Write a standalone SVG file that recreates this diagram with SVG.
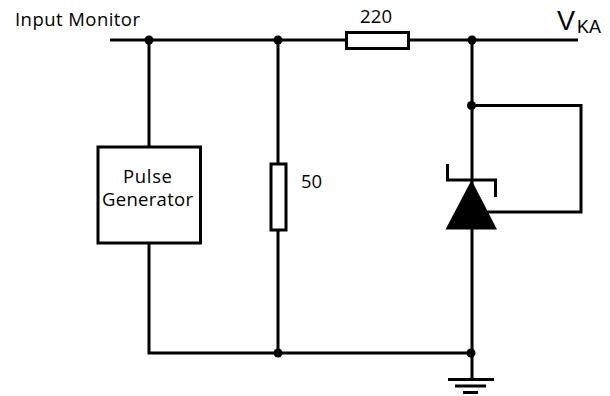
<svg xmlns="http://www.w3.org/2000/svg" width="610" height="396" viewBox="0 0 610 396">
<style>
.w{fill:none;stroke:#000;stroke-width:3}
.b{fill:#fff;stroke:#000;stroke-width:3}
.t{font-family:"Open Sans","Liberation Sans",Arial,sans-serif;fill:#000;font-size:18.500px}
.d{fill:#000}
.v{font-family:"Liberation Sans",Arial,sans-serif;fill:#000}
</style>
<rect width="610" height="396" fill="#fff"/>
<g id="connectors">
<path class="w" d="M110 40H578"/>
<path class="w" d="M149 40V147M149 243V353H472"/>
<path class="w" d="M278 40V164M278 230V353"/>
<path class="w" d="M472 40V353V379"/>
<path class="w" d="M472 105.500H581V212H485"/>
</g>
<g id="n-pulse"><rect class="b" x="98" y="147" width="102.500" height="96"/>
<text class="t" x="123" y="183" textLength="49">Pulse</text>
<text class="t" x="102" y="206" textLength="91">Generator</text></g>
<g id="n-r220"><rect class="b" x="346.500" y="32.500" width="62" height="16"/>
<text class="t" x="360" y="23" textLength="32">220</text></g>
<g id="n-r50"><rect class="b" x="271" y="164" width="15" height="66"/>
<text class="t" x="301" y="188" textLength="21">50</text></g>
<g id="n-zener"><polygon class="d" points="471.500,180 497,229.500 445.500,229.500"/>
<path class="w" d="M447.500 164V180H495.500V197"/></g>
<g id="n-ground"><path class="w" d="M448 379.500H494M455 386H486M463 392.500H478"/></g>
<g id="junctions"><circle class="d" cx="149" cy="40" r="4.500"/><circle class="d" cx="278" cy="40" r="4.500"/><circle class="d" cx="472" cy="40" r="4.500"/><circle class="d" cx="471.500" cy="105.500" r="4.500"/><circle class="d" cx="278" cy="353" r="4.500"/><circle class="d" cx="471" cy="353" r="4.500"/></g>
<g id="labels"><text class="t" x="15" y="26" textLength="125">Input Monitor</text>
<text class="v" x="557" y="30" font-size="27">V</text>
<text class="v" x="577" y="33" font-size="18">KA</text></g>
</svg>
